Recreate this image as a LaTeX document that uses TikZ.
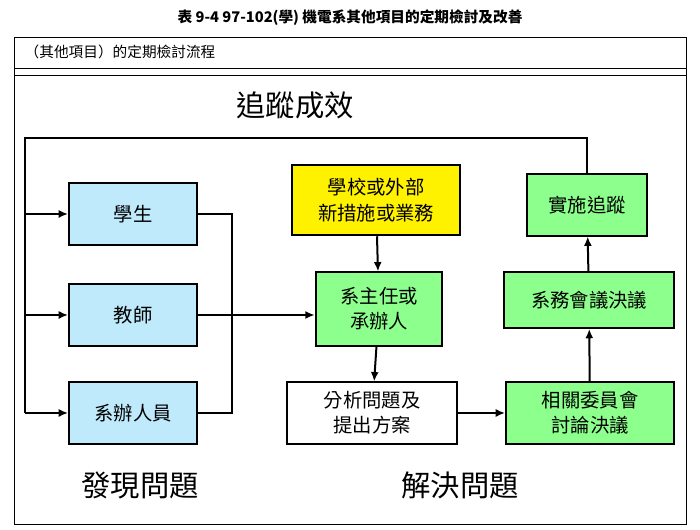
\documentclass[tikz,border=0pt]{standalone}
\usepackage{fontspec}
\setmainfont{Noto Sans CJK TC}
\usetikzlibrary{arrows.meta}
\begin{document}
\begin{tikzpicture}[x=0.75pt,y=-0.75pt,
 box/.style={draw,line width=1.4pt,inner sep=0pt,align=center,font=\fontsize{14.5}{19}\selectfont},
 ln/.style={line width=1.5pt},
 ar/.style={line width=1.5pt,-{Latex[length=7pt,width=6pt]}}]
\useasboundingbox (0,0) rectangle (700,530);
\draw[line width=0.6pt] (14,37) rectangle (686,524);
\draw[line width=0.6pt] (14,68) -- (686,68);
\draw[line width=0.6pt] (14,75) -- (686,75);
\node (title) at (350,18) {\fontsize{11}{13}\selectfont\bfseries 表 9-4 97-102(學) 機電系其他項目的定期檢討及改善};
\node[anchor=west] (sub) at (20,52) {\fontsize{11}{13}\selectfont （其他項目）的定期檢討流程};
\node (t1) at (295,105) {\fontsize{22}{26}\selectfont 追蹤成效};
\node (t2) at (140,485) {\fontsize{22}{26}\selectfont 發現問題};
\node (t3) at (460,485) {\fontsize{22}{26}\selectfont 解決問題};
\node[box,fill=cyan!25,minimum width=96pt,minimum height=46pt] (s) at (133,214) {學生};
\node[box,fill=cyan!25,minimum width=96pt,minimum height=46pt] (t) at (133,315) {教師};
\node[box,fill=cyan!25,minimum width=96pt,minimum height=46pt] (o) at (133,413) {系辦人員};
\node[box,fill=yellow,minimum width=126pt,minimum height=53pt] (y) at (376,200) {學校或外部\\新措施或業務};
\node[box,fill=green!45,minimum width=95pt,minimum height=55pt] (c) at (379,309) {系主任或\\承辦人};
\node[box,fill=white,minimum width=127pt,minimum height=46pt] (a) at (372,413) {分析問題及\\提出方案};
\node[box,fill=green!45,minimum width=126pt,minimum height=46pt] (r) at (590,413) {相關委員會\\討論決議};
\node[box,fill=green!45,minimum width=127pt,minimum height=42pt] (m) at (589,300) {系務會議決議};
\node[box,fill=green!45,minimum width=90pt,minimum height=46pt] (i) at (587,205) {實施追蹤};
\coordinate (bx) at (232,0);
\draw[ln] (s.east) -| (bx |- o.east) -- (o.east);
\draw[ar] (t.east) -- (c.west |- t.east);
\draw[ar] (y) -- (c);
\draw[ar] (c) -- (a);
\draw[ar] (a) -- (r);
\draw[ar] (r) -- (m);
\draw[ar] (m) -- (i);
\coordinate (lx) at (25,138);
\draw[ln] (i.north) |- (lx) -- (lx |- o.west);
\draw[ar] (lx |- s.west) -- (s.west);
\draw[ar] (lx |- t.west) -- (t.west);
\draw[ar] (lx |- o.west) -- (o.west);
\end{tikzpicture}
\end{document}
